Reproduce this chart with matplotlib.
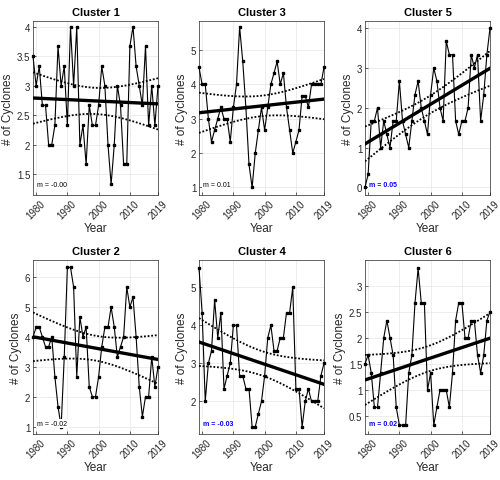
import numpy as np
import matplotlib
matplotlib.use("Agg")
import matplotlib.pyplot as plt

plt.rcParams['font.family'] = ['Liberation Sans', 'DejaVu Sans']

years = np.arange(1979, 2020)

cluster1 = [3.5, 3.0, 3.33, 2.67, 2.67, 2.0, 2.0, 2.33, 3.67, 3.0, 3.33, 2.33, 4.0, 3.0, 4.0,
            2.0, 2.33, 1.67, 2.67, 2.33, 2.33, 2.67, 3.33, 3.0, 2.0, 1.33, 2.0, 3.0, 2.67,
            1.67, 1.67, 3.67, 4.0, 3.33, 3.0, 2.67, 3.67, 2.33, 3.0, 2.33, 3.0]
cluster2 = [4.0, 4.33, 4.33, 4.0, 3.67, 3.67, 4.0, 2.67, 1.67, 1.0, 3.33, 6.33, 6.33, 5.67, 2.67,
            4.67, 4.0, 4.33, 2.33, 2.0, 2.0, 2.67, 3.67, 4.33, 4.33, 5.0, 4.33, 3.33, 3.67,
            4.0, 5.67, 5.0, 5.33, 4.0, 2.33, 1.33, 2.0, 2.0, 3.33, 2.33, 3.0]
cluster3 = [4.5, 4.0, 4.0, 3.0, 2.33, 2.67, 3.0, 3.33, 3.0, 3.0, 2.33, 3.33, 4.0, 5.67, 4.67,
            3.33, 1.67, 1.0, 2.0, 2.67, 3.33, 2.67, 3.33, 4.0, 4.33, 4.67, 4.0, 4.33, 3.33,
            2.67, 2.0, 2.33, 2.67, 3.67, 3.67, 3.33, 4.0, 4.0, 4.0, 4.0, 4.5]
cluster4 = [5.5, 4.33, 2.0, 3.0, 3.33, 4.67, 3.67, 4.33, 2.33, 2.67, 3.0, 4.0, 4.0, 2.67, 2.67,
            2.33, 2.33, 1.33, 1.33, 1.67, 2.0, 2.67, 3.67, 4.0, 3.33, 3.33, 3.67, 3.67, 4.33,
            4.33, 5.0, 2.33, 2.33, 1.33, 2.0, 2.33, 2.0, 2.0, 2.0, 2.67, 3.0]
cluster5 = [0.0, 0.33, 1.67, 1.67, 2.0, 1.0, 1.67, 1.33, 1.0, 1.67, 1.67, 2.67, 1.67, 1.33, 1.0,
            1.67, 2.33, 2.67, 2.0, 1.67, 1.33, 2.33, 3.0, 2.67, 2.0, 1.67, 3.67, 3.33, 3.33,
            1.67, 1.33, 1.67, 1.67, 2.0, 3.33, 3.0, 3.33, 1.67, 2.33, 3.33, 4.0]
cluster6 = [1.5, 1.67, 1.33, 0.67, 0.67, 1.33, 2.0, 2.33, 2.0, 1.67, 0.67, 0.33, 0.33, 0.33, 1.33,
            1.67, 2.67, 3.33, 2.67, 2.67, 1.0, 1.33, 0.33, 0.67, 1.0, 1.0, 1.0, 0.67, 1.33,
            2.33, 2.67, 2.67, 2.0, 2.0, 2.33, 2.33, 1.67, 1.33, 1.67, 2.33, 2.5]

titles = ["Cluster 1", "Cluster 3", "Cluster 5", "Cluster 2", "Cluster 4", "Cluster 6"]
series = [cluster1, cluster3, cluster5, cluster2, cluster4, cluster6]
slope_labels = ["m = -0.00", "m = 0.01", "m = 0.05", "m = -0.02", "m = -0.03", "m = 0.02"]
significant = [False, False, True, False, True, True]
ylims = [(1.15, 4.1), (0.78, 5.85), (-0.19, 4.18), (0.75, 6.58), (1.14, 5.72), (0.16, 3.49)]
yticks = [np.arange(1.5, 4.01, 0.5), np.arange(1, 5.01, 1), np.arange(0, 4.01, 1),
          np.arange(1, 6.01, 1), np.arange(2, 5.01, 1), np.arange(0.5, 3.01, 0.5)]
xticks = [1980, 1990, 2000, 2010, 2019]

fig = plt.figure(figsize=(5.0, 4.81), dpi=100)
lefts = [0.066, 0.398, 0.73]
bottoms = [0.5925, 0.0956]
w, h = 0.25, 0.362

gray = '#262626'
for i in range(6):
    r, c = divmod(i, 3)
    ax = fig.add_axes([lefts[c], bottoms[r], w, h])
    y = np.array(series[i])
    x = years.astype(float)
    n = len(x)
    b, a = np.polyfit(x, y, 1)
    xf = np.linspace(x.min(), x.max(), 100)
    yf = a + b * xf
    resid = y - (a + b * x)
    s = np.sqrt(np.sum(resid ** 2) / (n - 2))
    sxx = np.sum((x - x.mean()) ** 2)
    ci = 2.023 * s * np.sqrt(1.0 / n + (xf - x.mean()) ** 2 / sxx)

    ax.plot(x, y, color='black', lw=0.8, marker='s', ms=2.0, clip_on=False, zorder=3)
    ax.plot(xf, yf, color='black', lw=2.4, zorder=4)
    ax.plot(xf, yf + ci, color='black', lw=1.3, ls=(0, (1, 1)), zorder=4)
    ax.plot(xf, yf - ci, color='black', lw=1.3, ls=(0, (1, 1)), zorder=4)

    ax.set_xlim(1979, 2019)
    ax.set_ylim(*ylims[i])
    ax.set_xticks(xticks)
    ax.set_xticklabels([str(t) for t in xticks], rotation=45, fontsize=7, color=gray)
    ax.set_yticks(yticks[i])
    ax.set_yticklabels([f"{v:g}" for v in yticks[i]], fontsize=7, color=gray)
    ax.tick_params(direction='in', length=2, width=0.5, colors=gray, pad=2)
    ax.grid(True, color='#e6e6e6', lw=0.5)
    ax.set_axisbelow(True)
    for sp in ax.spines.values():
        sp.set_color(gray)
        sp.set_linewidth(0.5)
    ax.set_title(titles[i], fontsize=8, fontweight='bold', pad=4)
    ax.set_xlabel("Year", fontsize=8.5, color=gray, labelpad=1)
    ax.set_ylabel("# of Cyclones", fontsize=8.5, color=gray, labelpad=2)

    if significant[i]:
        ax.text(0.03, 0.04, slope_labels[i], transform=ax.transAxes, fontsize=5,
                color='blue', fontweight='bold', va='bottom', ha='left', zorder=5,
                bbox=dict(facecolor='white', edgecolor='none', pad=0.5))
    else:
        ax.text(0.03, 0.04, slope_labels[i], transform=ax.transAxes, fontsize=5,
                color='black', va='bottom', ha='left', zorder=5,
                bbox=dict(facecolor='white', edgecolor='none', pad=0.5))

fig.savefig("out.png", dpi=100)
